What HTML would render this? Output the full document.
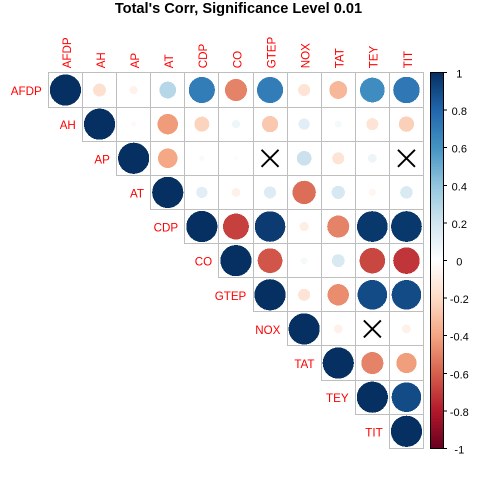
<!DOCTYPE html>
<html lang="en">
<head>
<meta charset="utf-8">
<title>Total's Corr, Significance Level 0.01</title>
<style>
html,body{margin:0;padding:0;background:#fff;width:480px;height:480px;overflow:hidden}
svg{display:block}
text{font-family:"Liberation Sans",Arial,sans-serif}
</style>
</head>
<body>
<svg id="chart" width="480" height="480" viewBox="0 0 480 480" xmlns="http://www.w3.org/2000/svg">
<text x="238.5" y="12.8" text-anchor="middle" font-size="14.6" font-weight="bold" fill="#000">Total's Corr, Significance Level 0.01</text>
<g id="cells"></g>
<g id="marks"></g>
<g id="labels"></g>
<g id="legend"></g>
</svg>
<script>
const variables = ["AFDP","AH","AP","AT","CDP","CO","GTEP","NOX","TAT","TEY","TIT"];
// Upper-triangle correlations, one row per variable, starting at the diagonal. null = not significant.
const corrAFDP = [1,-0.17,-0.07,0.29,0.70,-0.50,0.70,-0.15,-0.33,0.63,0.72];
const corrAH = [1,-0.03,-0.43,-0.23,0.07,-0.27,0.13,0.05,-0.15,-0.24];
const corrAP = [1,-0.39,0.03,0.02,null,0.22,-0.15,0.08,null];
const corrAT = [1,0.13,-0.08,0.15,-0.56,0.18,-0.05,0.16];
const corrCDP = [1,-0.69,0.96,-0.09,-0.50,0.97,0.97];
const corrCO = [1,-0.63,0.05,0.17,-0.67,-0.72];
const corrGTEP = [1,-0.15,-0.47,0.90,0.90];
const corrNOX = [1,-0.08,null,-0.08];
const corrTAT = [1,-0.50,-0.42];
const corrTEY = [1,0.90];
const corrTIT = [1];
const corrRows = [corrAFDP,corrAH,corrAP,corrAT,corrCDP,corrCO,corrGTEP,corrNOX,corrTAT,corrTEY,corrTIT];
const legendTicks = [1,0.8,0.6,0.4,0.2,0,-0.2,-0.4,-0.6,-0.8,-1];
const paletteStops = ["#67001F","#B2182B","#D6604D","#F4A582","#FDDBC7","#FFFFFF","#D1E5F0","#92C5DE","#4393C3","#2166AC","#053061"];

const NS = "http://www.w3.org/2000/svg";
const gridLeft = 48.4, gridTop = 72.95, cellW = 34.1, cellH = 34.13, maxR = 15.6;
const barLeft = 430.5, barRight = 443.5, barTop = 72.5, barBottom = 448.5;
const xCell = i => gridLeft + i * cellW;
const yCell = i => gridTop + i * cellH;
const snap = p => Math.floor(p) + 0.5;
const radius = v => maxR * Math.sqrt(Math.abs(v));
const yBar = v => barBottom - (v + 1) / 2 * (barBottom - barTop);

function color(v) {
  const t = (Math.max(-1, Math.min(1, v)) + 1) / 2 * (paletteStops.length - 1);
  const i = Math.min(Math.floor(t), paletteStops.length - 2), f = t - i;
  const parse = h => [1, 3, 5].map(p => parseInt(h.substr(p, 2), 16));
  const a = parse(paletteStops[i]), b = parse(paletteStops[i + 1]);
  return "rgb(" + a.map((c, k) => Math.round(c + (b[k] - c) * f)).join(",") + ")";
}
function make(tag, attrs, parent) {
  const el = document.createElementNS(NS, tag);
  for (const k in attrs) el.setAttribute(k, attrs[k]);
  parent.appendChild(el);
  return el;
}

const cells = document.getElementById("cells");
const marks = document.getElementById("marks");
const labels = document.getElementById("labels");
const legend = document.getElementById("legend");

corrRows.forEach((row, r) => {
  row.forEach((v, k) => {
    const c = r + k;
    const pair = variables[r].toLowerCase() + "-" + variables[c].toLowerCase();
    const left = snap(xCell(c)), top = snap(yCell(r));
    const cell = make("rect", {x: left, y: top, width: snap(xCell(c + 1)) - left, height: snap(yCell(r + 1)) - top, fill: "#fff", stroke: "#BEBEBE", "stroke-width": 1, "shape-rendering": "crispEdges"}, cells);
    
    
    const cx = xCell(c) + cellW / 2, cy = yCell(r) + cellH / 2;
    if (v === null) {
      const h = 8.5;
      const cross = make("path", {d: "M" + (cx - h) + " " + (cy - h) + "L" + (cx + h) + " " + (cy + h) + "M" + (cx + h) + " " + (cy - h) + "L" + (cx - h) + " " + (cy + h), stroke: "#000", "stroke-width": 1.9, fill: "none"}, marks);
      
      
    } else {
      const dot = make("circle", {cx: cx, cy: cy, r: radius(v), fill: color(v), "shape-rendering": "crispEdges"}, marks);
      
      
    }
  });
});

variables.forEach((name, i) => {
  const top = make("text", {transform: "translate(" + (xCell(i) + cellW / 2 + 5.3) + " 68.3) rotate(-90)", "font-size": 11.6, fill: "#FF0000"}, labels);
  top.textContent = name;
  
  
  const left = make("text", {x: xCell(i) - 6.7, y: yCell(i) + cellH / 2 + 5, "text-anchor": "end", "font-size": 11.6, fill: "#FF0000"}, labels);
  left.textContent = name;
  
  
});

for (let p = barTop; p < barBottom; p += 1) {
  const v = 1 - (p - barTop + 0.5) / (barBottom - barTop) * 2;
  const strip = make("rect", {x: barLeft, y: p, width: barRight - barLeft, height: 1.2, fill: color(v), "shape-rendering": "crispEdges"}, legend);
  
  
}
const frame = make("rect", {x: barLeft, y: barTop, width: barRight - barLeft, height: barBottom - barTop, fill: "none", stroke: "#000", "stroke-width": 1, "shape-rendering": "crispEdges"}, legend);


legendTicks.forEach(t => {
  const y = yBar(t);
  const tick = make("line", {x1: barRight, x2: barRight + 3.5, y1: y, y2: y, stroke: "#000", "stroke-width": 1, "shape-rendering": "crispEdges"}, legend);
  
  
  const label = make("text", {x: 459.3, y: y + 5, "text-anchor": "middle", "font-size": 11, fill: "#000"}, legend);
  label.textContent = String(t);
  
  
});
</script>
</body>
</html>
